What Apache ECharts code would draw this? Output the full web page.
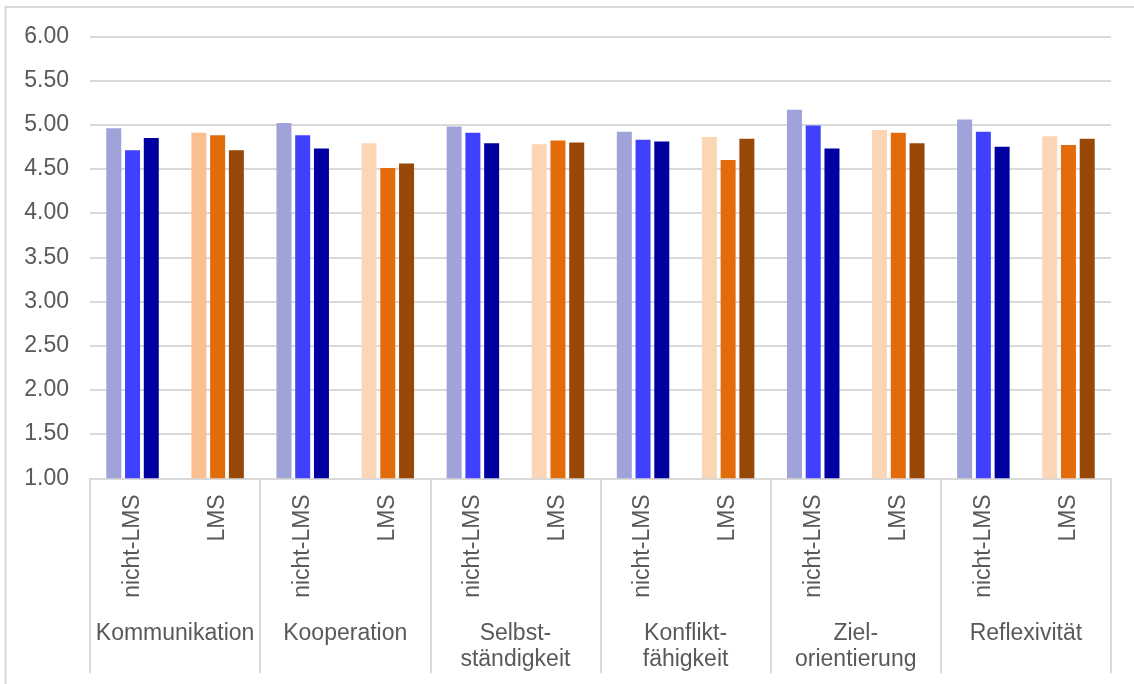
<!DOCTYPE html>
<html>
<head>
<meta charset="utf-8">
<script src="https://cdn.jsdelivr.net/npm/echarts@6/dist/echarts.min.js"></script>
<style>
  html, body { margin: 0; padding: 0; background: #ffffff; }
  #chart { width: 1134px; height: 684px; }
</style>
</head>
<body>
<div id="chart"></div>
<script>
// Kompetenzbereiche (obere Ebene) und Vergleichsgruppen (untere Ebene)
const bereiche = ['Kommunikation', 'Kooperation', 'Selbst-\nständigkeit', 'Konflikt-\nfähigkeit', 'Ziel-\norientierung', 'Reflexivität'];
const gruppen = ['nicht-LMS', 'LMS'];

// Mittelwerte je Messzeitpunkt, abwechselnd nicht-LMS / LMS pro Bereich
const messung1 = [4.96, 4.91, 5.02, 4.79, 4.98, 4.78, 4.92, 4.86, 5.17, 4.94, 5.06, 4.87];
const messung2 = [4.71, 4.88, 4.88, 4.51, 4.91, 4.82, 4.83, 4.60, 4.99, 4.91, 4.92, 4.77];
const messung3 = [4.85, 4.71, 4.73, 4.56, 4.79, 4.80, 4.81, 4.84, 4.73, 4.79, 4.75, 4.84];

// Achsenbeschriftung der Werteachse
const yMin = 1, yMax = 6, yStep = 0.5;

const farbenNichtLMS = ['#A0A3DA', '#4040FF', '#0000A0'];
const farbenLMS = ['#FCD5B5', '#E36C0A', '#974806'];
const farbeLMSErsterBalken = '#FAC090';

const FONT = '"Liberation Sans", Arial, sans-serif';
const TEXT = '#595959';
const LINE = '#D9D9D9';

const subKategorien = [];
bereiche.forEach(() => gruppen.forEach(g => subKategorien.push(g)));

function baueDaten(werte, reihe) {
  return werte.map((v, i) => {
    let farbe = (i % 2 === 0) ? farbenNichtLMS[reihe] : farbenLMS[reihe];
    if (i === 1 && reihe === 0) farbe = farbeLMSErsterBalken;
    return { value: v, itemStyle: { color: farbe } };
  });
}

const chart = echarts.init(document.getElementById('chart'), null, { renderer: 'canvas' });

chart.setOption({
  animation: false,
  backgroundColor: '#ffffff',
  textStyle: { fontFamily: FONT },
  graphic: [{
    type: 'rect',
    shape: { x: 5.5, y: 7, width: 1140, height: 700 },
    style: { fill: 'none', stroke: LINE, lineWidth: 2 },
    silent: true
  }],
  grid: { left: 90, right: 23, top: 36.3, bottom: 205.7, containLabel: false },
  xAxis: [
    {
      type: 'category',
      data: subKategorien,
      position: 'bottom',
      axisLine: { show: true, lineStyle: { color: LINE, width: 2 } },
      axisTick: { show: false },
      axisLabel: {
        interval: 0,
        rotate: 90,
        margin: 16,
        fontSize: 23,
        color: TEXT,
        fontFamily: FONT
      },
      splitLine: { show: false }
    },
    {
      type: 'category',
      data: bereiche,
      position: 'bottom',
      axisLine: { show: false },
      axisTick: {
        show: true,
        interval: 0,
        length: 195,
        lineStyle: { color: LINE, width: 2 }
      },
      axisLabel: {
        interval: 0,
        margin: 142,
        fontSize: 23,
        lineHeight: 26,
        color: TEXT,
        fontFamily: FONT
      },
      splitLine: { show: false }
    }
  ],
  yAxis: {
    type: 'value',
    min: yMin,
    max: yMax,
    interval: yStep,
    axisLine: { show: false },
    axisTick: { show: false },
    axisLabel: {
      margin: 21,
      fontSize: 23,
      color: TEXT,
      fontFamily: FONT,
      formatter: v => v.toFixed(2)
    },
    splitLine: { show: true, lineStyle: { color: LINE, width: 2 } }
  },
  series: [messung1, messung2, messung3].map((werte, r) => ({
    type: 'bar',
    xAxisIndex: 0,
    barWidth: 15,
    barGap: '25%',
    data: baueDaten(werte, r)
  }))
});
</script>
</body>
</html>
